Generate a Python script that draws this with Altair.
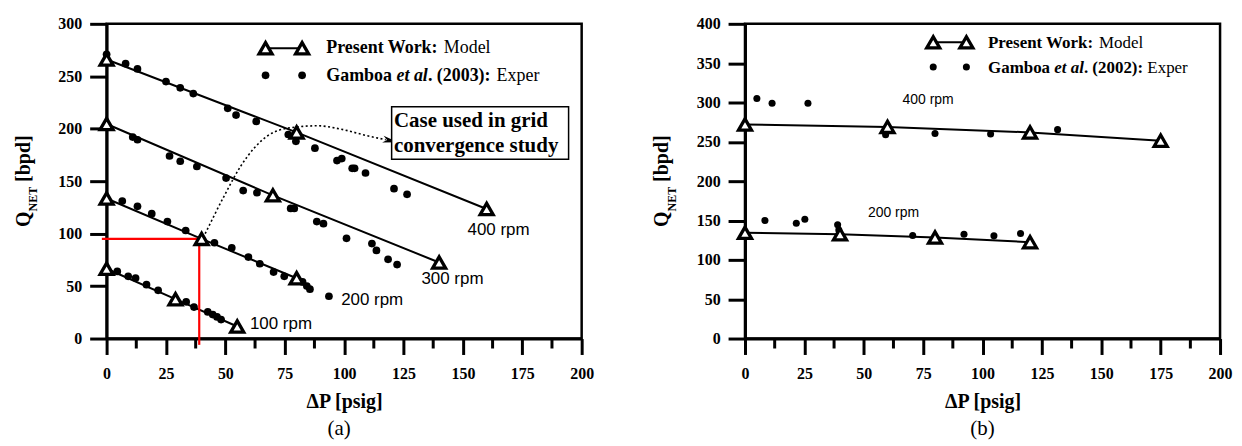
import altair as alt
import pandas as pd

SERIF = "Liberation Serif"
SANS = "Liberation Sans"
W, H = 477, 316

# ---------------- panel (a) values ----------------
a_x_ticks = [0, 25, 50, 75, 100, 125, 150, 175, 200]
a_x_minor = [12.5, 37.5, 62.5, 87.5, 112.5, 137.5, 162.5, 187.5]
a_y_ticks = [0, 50, 100, 150, 200, 250, 300]

a_m400_dp = [0, 80, 160]
a_m400_q = [266, 196.5, 123.5]
a_m300_dp = [0, 70, 140]
a_m300_q = [204.5, 136.5, 72.5]
a_m200_dp = [0, 40, 80]
a_m200_q = [133.5, 95, 57.5]
a_m100_dp = [0, 29, 55]
a_m100_q = [66.5, 37.5, 11.5]

a_e400_dp = [0, 8, 13, 25, 31, 36.5, 51, 54.5, 63, 76.5, 79.7, 87.7, 97, 99, 103.4, 104.4, 109, 121, 126.5]
a_e400_q = [271, 262, 257, 245, 239, 233.5, 219.5, 213, 207, 194.5, 188, 181.5, 169.6, 171.5, 162.3, 162.3, 157.8, 142.8, 137.5]
a_e300_dp = [0, 11, 13, 26.5, 31, 38, 50.3, 57.5, 63.3, 77.5, 79, 88.5, 91.3, 101, 111.7, 113.6, 118.5, 122.3]
a_e300_q = [203, 192, 189.5, 174, 169, 164, 153, 141, 139, 124, 124, 111.5, 109.5, 95.5, 90.5, 84, 75.5, 70.5]
a_e200_dp = [6.6, 13, 19, 25.6, 33.3, 45.4, 52.7, 59.7, 64.5, 70.3, 74.8, 82.5, 84.3, 85.6, 93.6]
a_e200_q = [131, 126, 119, 111.5, 103, 91.3, 86.5, 77.7, 71.3, 63.4, 59.3, 54, 50, 47, 40.3]
a_e100_dp = [4.5, 9.1, 12.2, 16.8, 21.7, 33.5, 36.8, 42.6, 44.7, 46.5, 48.2]
a_e100_q = [64, 59.3, 57.7, 51.3, 46, 35, 30, 25.4, 22.8, 20.6, 18.1]

a_rpm_text = ["400 rpm", "300 rpm", "200 rpm", "100 rpm"]
a_rpm_dp = [165, 145.6, 111.8, 73.4]
a_rpm_q = [103, 56.5, 36.5, 14.3]

a_guide_h_dp = [-2]
a_guide_h_dp2 = [39]
a_guide_h_q = [95]
a_guide_v_dp = [39]
a_guide_v_q = [95]
a_guide_v_q2 = [-6]

a_curve_dp = [41.5, 49.6, 56.6, 67.8, 77.6, 88.8, 98.6, 109.8, 117.5]
a_curve_q = [100, 136.3, 164.8, 193.3, 201, 202.8, 199.6, 193.3, 189.5]
a_arrow_dp = [119.5]
a_arrow_q = [188.6]

a_box_dp = [120]
a_box_dp2 = [194.5]
a_box_q = [221]
a_box_q2 = [171]
a_box_lines = ["Case used in grid", "convergence study"]
a_box_text_dp = [121, 121]
a_box_text_q = [207.5, 183.8]

# ---------------- panel (b) values ----------------
b_x_ticks = [0, 25, 50, 75, 100, 125, 150, 175, 200]
b_x_minor = [12.5, 37.5, 62.5, 87.5, 112.5, 137.5, 162.5, 187.5]
b_y_ticks = [0, 50, 100, 150, 200, 250, 300, 350, 400]

b_m400_dp = [0, 60, 120, 175]
b_m400_q = [272, 269, 262, 251.5]
b_m200_dp = [0, 40, 80, 120]
b_m200_q = [134.5, 132.5, 128.5, 122.5]

b_e400_dp = [5, 11.4, 26.5, 59.2, 80, 103.4, 131.6]
b_e400_q = [305, 299, 299, 259, 260.5, 260, 265.5]
b_e200_dp = [8.4, 21.6, 25.2, 39, 39.5, 70.6, 92.2, 104.8, 116]
b_e200_q = [150, 146.5, 151.5, 144.5, 138, 131, 132.5, 130.5, 133.5]

b_rpm_text = ["400 rpm", "200 rpm"]
b_rpm_dp = [77.1, 62.5]
b_rpm_q = [303, 160]


def series_df(pairs):
    rows = []
    for name, xs, ys in pairs:
        for x, y in zip(xs, ys):
            rows.append({"rpm": name, "dp": x, "q": y})
    return pd.DataFrame(rows)


def x_axis(values):
    return alt.Axis(values=values, title="ΔP [psig]", tickSize=16, tickWidth=3,
                    domainWidth=3, labelFont=SERIF, labelFontSize=16, labelFontWeight="bold",
                    labelPadding=11, labelFlush=False, titleFont=SERIF,
                    titleFontSize=20, titleFontWeight="bold", titlePadding=10, grid=False,
                    domainColor="black", tickColor="black", labelColor="black",
                    titleColor="black")


def y_axis(values):
    return alt.Axis(values=values, title=None, tickSize=17, tickWidth=3,
                    domainWidth=3, labelFont=SERIF, labelFontSize=16, labelFontWeight="bold",
                    labelPadding=8, labelFlush=False, grid=False,
                    domainColor="black", tickColor="black", labelColor="black")


def pix_text(text, x, y, size, font=SERIF, weight="normal", style="normal", angle=0,
             align="left", baseline="middle"):
    kw = dict(font=font, fontSize=size, fontWeight=weight, fontStyle=style, align=align,
              baseline=baseline, color="black")
    if angle:
        kw["angle"] = angle
    return alt.Chart(pd.DataFrame({"t": [text]})).mark_text(**kw).encode(
        x=alt.value(x), y=alt.value(y), text="t:N")


def pix_point(xs, ys, shape, size, filled_white=False, sw=3):
    layers = []
    for px, py in zip(xs, ys):
        if filled_white:
            m = alt.Chart(pd.DataFrame({"i": [0]})).mark_point(
                shape=shape, size=size, filled=True, fill="white", stroke="black",
                strokeWidth=sw, opacity=1)
        else:
            m = alt.Chart(pd.DataFrame({"i": [0]})).mark_point(
                shape=shape, size=size, filled=True, color="black", opacity=1)
        layers.append(m.encode(x=alt.value(px), y=alt.value(py)))
    return layers


def legend(tri_x, tri_y, dot_y, text_x, row1_y, row2_y, fs, model_dx, etal_dx, year_dx,
           exper_dx, year_text, dot_size):
    line = alt.Chart(pd.DataFrame({"i": [0]})).mark_rule(color="black", strokeWidth=2).encode(
        x=alt.value(tri_x[0]), x2=alt.value(tri_x[1]), y=alt.value(tri_y))
    layers = [line]
    layers += pix_point(tri_x, [tri_y, tri_y], "triangle-up", 170, filled_white=True, sw=3.3)
    layers += pix_point(tri_x, [dot_y, dot_y], "circle", dot_size)
    layers += [
        pix_text("Present Work:", text_x, row1_y, fs, weight="bold"),
        pix_text("Model", text_x + model_dx, row1_y, fs),
        pix_text("Gamboa", text_x, row2_y, fs, weight="bold"),
        pix_text("et al", text_x + etal_dx, row2_y, fs, weight="bold", style="italic"),
        pix_text(year_text, text_x + year_dx, row2_y, fs, weight="bold"),
        pix_text("Exper", text_x + exper_dx, row2_y, fs),
    ]
    return layers


def ytitle():
    return [
        pix_text("Q", -77.4, 204, 20, weight="bold", angle=270, baseline="alphabetic"),
        pix_text("NET", -69.5, 188.4, 12, weight="bold", angle=270, baseline="alphabetic"),
        pix_text("[bpd]", -77.4, 158.7, 20, weight="bold", angle=270, baseline="alphabetic"),
    ]


def panel(model_df, exp_df, rpm_df, ymax, xticks, xminor, yticks, dot_size, rpm_fs,
          extra, leg, title, title_dx):
    X = alt.X("dp:Q", scale=alt.Scale(domain=[0, 200], nice=False, zero=False),
              axis=x_axis(xticks))
    Y = alt.Y("q:Q", scale=alt.Scale(domain=[0, ymax], nice=False, zero=False),
              axis=y_axis(yticks))
    lines = alt.Chart(model_df).mark_line(color="black", strokeWidth=2).encode(
        x=X, y=Y, detail="rpm:N")
    dots = alt.Chart(exp_df).mark_point(shape="circle", size=dot_size, filled=True,
                                        color="black", opacity=1).encode(x=X, y=Y)
    tris = alt.Chart(model_df).mark_point(shape="triangle-up", size=170, filled=True,
                                          fill="white", stroke="black", strokeWidth=3.3,
                                          opacity=1).encode(x=X, y=Y)
    labels = alt.Chart(rpm_df).mark_text(font=SANS, fontSize=rpm_fs, color="black",
                                         align="center", baseline="middle").encode(
        x=X, y=Y, text="label:N")
    minor = alt.Chart(pd.DataFrame({"dp": xminor})).mark_rule(
        color="black", strokeWidth=3, opacity=1).encode(
        x=X, y=alt.value(H), y2=alt.value(H + 10))
    layers = [lines] + extra(X, Y) + [dots, tris, labels] + leg + ytitle() + [minor]
    return alt.layer(*layers).properties(
        width=W, height=H,
        title=alt.TitleParams(title, orient="bottom", font=SERIF, fontSize=21,
                              fontWeight="normal", offset=7, frame="group",
                              anchor="middle", dx=title_dx, color="black"))


a_model = series_df([("400", a_m400_dp, a_m400_q), ("300", a_m300_dp, a_m300_q),
                     ("200", a_m200_dp, a_m200_q), ("100", a_m100_dp, a_m100_q)])
a_exp = series_df([("400", a_e400_dp, a_e400_q), ("300", a_e300_dp, a_e300_q),
                   ("200", a_e200_dp, a_e200_q), ("100", a_e100_dp, a_e100_q)])
a_rpm = pd.DataFrame({"label": a_rpm_text, "dp": a_rpm_dp, "q": a_rpm_q})

b_model = series_df([("400", b_m400_dp, b_m400_q), ("200", b_m200_dp, b_m200_q)])
b_exp = series_df([("400", b_e400_dp, b_e400_q), ("200", b_e200_dp, b_e200_q)])
b_rpm = pd.DataFrame({"label": b_rpm_text, "dp": b_rpm_dp, "q": b_rpm_q})


def a_extra(X, Y):
    hdf = pd.DataFrame({"dp": a_guide_h_dp, "dp2": a_guide_h_dp2, "q": a_guide_h_q})
    vdf = pd.DataFrame({"dp": a_guide_v_dp, "q": a_guide_v_q, "q2": a_guide_v_q2})
    red_h = alt.Chart(hdf).mark_rule(color="#ff0000", strokeWidth=2.2).encode(
        x=X, x2="dp2:Q", y=Y)
    red_v = alt.Chart(vdf).mark_rule(color="#ff0000", strokeWidth=2.2).encode(
        x=X, y=Y, y2="q2:Q")
    curve = alt.Chart(pd.DataFrame({"dp": a_curve_dp, "q": a_curve_q})).mark_line(
        color="black", strokeWidth=1.6, strokeDash=[2, 2.5], interpolate="monotone").encode(
        x=X, y=Y)
    head = alt.Chart(pd.DataFrame({"dp": a_arrow_dp, "q": a_arrow_q})).mark_point(
        shape="M0,-1L0.45,1L0,0.45L-0.45,1Z", size=240, angle=102, filled=True,
        color="black", opacity=1).encode(x=X, y=Y)
    box = alt.Chart(pd.DataFrame({"dp": a_box_dp, "dp2": a_box_dp2, "q": a_box_q,
                                  "q2": a_box_q2})).mark_rect(
        fill="white", stroke="black", strokeWidth=1.5).encode(x=X, x2="dp2:Q", y=Y, y2="q2:Q")
    btxt = alt.Chart(pd.DataFrame({"dp": a_box_text_dp, "q": a_box_text_q,
                                   "t": a_box_lines})).mark_text(
        font=SERIF, fontSize=21, fontWeight="bold", align="left", baseline="middle",
        color="black").encode(x=X, y=Y, text="t:N")
    return [red_h, red_v, curve, head, box, btxt]


def b_extra(X, Y):
    return []


a_leg = legend([159.6, 196.3], 24.5, 51.7, 220.6, 24.5, 52.8, 18, 118, 70.5, 102, 171,
               ". (2003):", 60)
b_leg = legend([189, 222.3], 18.6, 43.3, 244, 18.8, 44.8, 17, 111.4, 66.6, 96.3, 160,
               ". (2002):", 50)

chart_a = panel(a_model, a_exp, a_rpm, 300, a_x_ticks, a_x_minor, a_y_ticks, 60, 17,
                a_extra, a_leg, "(a)", -5)
chart_b = panel(b_model, b_exp, b_rpm, 400, b_x_ticks, b_x_minor, b_y_ticks, 50, 14,
                b_extra, b_leg, "(b)", 0)

chart = alt.hconcat(chart_a, chart_b, spacing=55).configure_view(
    stroke="black", strokeWidth=2.5).properties(
    padding={"left": 4, "top": 5, "right": 0, "bottom": 0})

chart.save("out.html", embed_options={"renderer": "svg", "actions": False})
